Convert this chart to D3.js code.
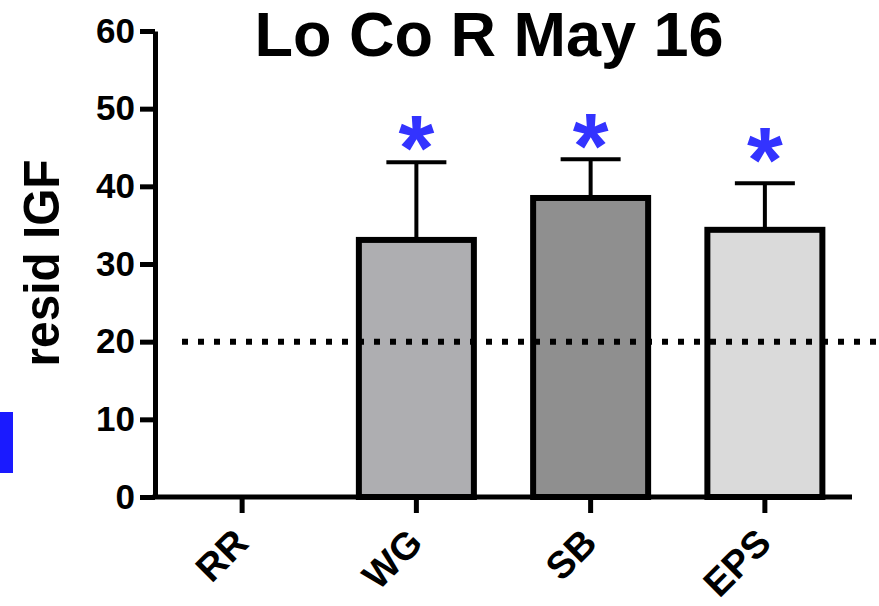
<!DOCTYPE html>
<html>
<head>
<meta charset="utf-8">
<script src="https://cdn.jsdelivr.net/npm/d3@7"></script>
<style>
  html, body { margin: 0; padding: 0; background: #fff; }
  svg { display: block; }
  text { font-family: "Liberation Sans", Arial, Helvetica, sans-serif; font-weight: bold; }
</style>
</head>
<body>
<svg id="chart" width="879" height="606"></svg>
<script>
// ---- data ----
const categories = ["RR", "WG", "SB", "EPS"];
const means      = [0, 33.1, 38.5, 34.4];
const errorTops  = [null, 43.1, 43.5, 40.4];
const starLevels = [null, 47.3, 47.5, 45.7];
const barColors  = ["#ffffff", "#aeaeb1", "#8f8f8f", "#dadada"];
const yTicks     = [0, 10, 20, 30, 40, 50, 60];
const refLevel   = 20;
const title      = "Lo Co R May 16";
const yLabel     = "resid IGF";

const svg = d3.select("#chart");

const x = d3.scaleBand().domain(categories).range([155, 852]).paddingInner(0.34).paddingOuter(0.17);
const y = d3.scaleLinear().domain([0, 60]).range([497, 31]);

// blue marker at left edge
svg.append("rect").attr("x", 0).attr("y", 412).attr("width", 13).attr("height", 61).attr("fill", "#1a1aff");

// title
svg.append("text").attr("x", 489).attr("y", 56).attr("text-anchor", "middle")
  .attr("font-size", 63).attr("fill", "#000").text(title);

// y label
svg.append("text")
  .attr("transform", "translate(59,263) rotate(-90)")
  .attr("text-anchor", "middle")
  .attr("font-size", 50)
  .attr("textLength", 207).attr("lengthAdjust", "spacingAndGlyphs")
  .text(yLabel);

// bars
const barData = categories.map((c, i) => ({ c, v: means[i], e: errorTops[i], s: starLevels[i], col: barColors[i] }))
  .filter(d => d.v > 0);

// error bars
const cap = 30;
barData.forEach(d => {
  const cx = x(d.c) + x.bandwidth() / 2;
  svg.append("line").attr("x1", cx).attr("x2", cx).attr("y1", y(d.v)).attr("y2", y(d.e))
    .attr("stroke", "#000").attr("stroke-width", 4);
  svg.append("line").attr("x1", cx - cap).attr("x2", cx + cap).attr("y1", y(d.e)).attr("y2", y(d.e))
    .attr("stroke", "#000").attr("stroke-width", 4);
});

svg.selectAll("rect.bar").data(barData).join("rect")
  .attr("class", "bar")
  .attr("x", d => x(d.c)).attr("width", x.bandwidth())
  .attr("y", d => y(d.v)).attr("height", d => y(0) - y(d.v))
  .attr("fill", d => d.col).attr("stroke", "#000").attr("stroke-width", 6)
  .attr("stroke-linejoin", "miter");

// asterisks
svg.selectAll("text.star").data(barData).join("text")
  .attr("class", "star")
  .attr("x", d => x(d.c) + x.bandwidth() / 2)
  .attr("y", d => y(d.s) + 50)
  .attr("text-anchor", "middle")
  .attr("font-size", 92)
  .attr("fill", "#3333ff")
  .text("*");

// reference dotted line
svg.append("line").attr("x1", 182).attr("x2", 879).attr("y1", y(refLevel)).attr("y2", y(refLevel))
  .attr("stroke", "#000").attr("stroke-width", 6).attr("stroke-dasharray", "6,10");

// y axis
const yAxis = svg.append("g").attr("transform", "translate(155,0)")
  .call(d3.axisLeft(y).tickValues(yTicks).tickSize(15).tickSizeOuter(0).tickPadding(5));
yAxis.select(".domain").attr("stroke", "#000").attr("stroke-width", 5);
yAxis.selectAll(".tick line").attr("stroke", "#000").attr("stroke-width", 5);
yAxis.selectAll(".tick text").attr("font-size", 35).attr("font-family", "Liberation Sans, Arial, sans-serif")
  .attr("font-weight", "bold").attr("fill", "#000");

// x axis
const xAxis = svg.append("g").attr("transform", `translate(0,${y(0)})`)
  .call(d3.axisBottom(x).tickSize(16).tickSizeOuter(0).tickFormat(""));
xAxis.select(".domain").attr("stroke", "#000").attr("stroke-width", 5)
  .attr("d", "M152.5,0H852");
xAxis.selectAll(".tick line").attr("stroke", "#000").attr("stroke-width", 5);

svg.selectAll("text.xlab").data(categories).join("text")
  .attr("class", "xlab")
  .attr("transform", d => `translate(${x(d) + x.bandwidth() / 2 - 1},536) rotate(-45)`)
  .attr("text-anchor", "end")
  .attr("dominant-baseline", "central")
  .attr("font-size", 38)
  .text(d => d);
</script>
</body>
</html>
